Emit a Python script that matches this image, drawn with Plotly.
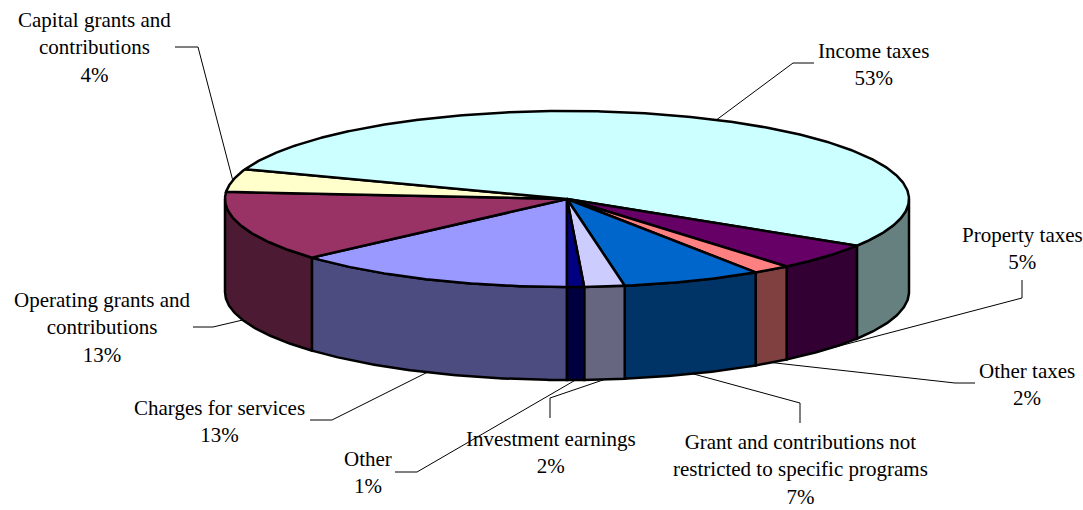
import numpy as np
import plotly.graph_objects as go

# ---- data (Excel order, first slice drawn at 6 o'clock, clockwise) ----
categories = [
    "Charges for services",
    "Operating grants and<br>contributions",
    "Capital grants and<br>contributions",
    "Income taxes",
    "Property taxes",
    "Other taxes",
    "Grant and contributions not<br>restricted to specific programs",
    "Investment earnings",
    "Other",
]
values = [13.4, 12.9, 4.2, 53.4, 5.0, 1.8, 6.6, 1.9, 0.8]
top_colors = ["#9999FF", "#993366", "#FFFFCC", "#CCFFFF", "#660066",
              "#FF8080", "#0066CC", "#CCCCFF", "#000080"]
side_colors = ["#4C4C80", "#4D1A33", "#808066", "#668080", "#330033",
               "#804040", "#003366", "#666680", "#000040"]

# ---- geometry / layout (pixel-like units) ----
CX, CY, RX, RY, DEPTH = 567, 199, 342, 88, 93
START = 180.0
W, H = 1083, 510

# label placement: (text center x, text center y, elbow point, leader end point)
label_layout = [
    dict(x=219, y=421, p1=(310, 420), p2=(332, 420)),
    dict(x=102, y=327, p1=(193, 327), p2=(213, 327)),
    dict(x=94, y=47, p1=(175, 47), p2=(198, 47)),
    dict(x=873, y=64, p1=(814, 63), p2=(793, 63)),
    dict(x=1022, y=248, p1=(1022, 280), p2=(1022, 298)),
    dict(x=1027, y=384, p1=(975, 383), p2=(955, 383)),
    dict(x=800, y=469, p1=(800, 423), p2=(800, 403)),
    dict(x=551, y=452, p1=(550, 418), p2=(550, 398)),
    dict(x=368, y=472, p1=(395, 472), p2=(417, 472)),
]


def pt(theta_deg, dy=0.0):
    t = np.radians(theta_deg)
    return CX + RX * np.sin(t), CY - RY * np.cos(t) + dy


def arc(a0, a1, dy=0.0):
    n = max(int(abs(a1 - a0) * 2) + 2, 3)
    th = np.linspace(a0, a1, n)
    x, y = pt(th, dy)
    return list(x), list(y)


total = float(sum(values))
angles = [START]
for v in values:
    angles.append(angles[-1] + 360.0 * v / total)

fig = go.Figure()

# side walls (front half only: 90..270 and 450..630)
for i in range(len(values)):
    a0, a1 = angles[i], angles[i + 1]
    for lo_f, hi_f in [(90, 270), (450, 630)]:
        lo, hi = max(a0, lo_f), min(a1, hi_f)
        if hi > lo:
            xt, yt = arc(lo, hi)
            xb, yb = arc(hi, lo, DEPTH)
            fig.add_trace(go.Scatter(
                x=xt + xb + [xt[0]], y=yt + yb + [yt[0]],
                mode="lines", fill="toself", fillcolor=side_colors[i],
                line=dict(color="black", width=2.5), hoverinfo="skip"))

# top faces
for i in range(len(values)):
    a0, a1 = angles[i], angles[i + 1]
    xa, ya = arc(a0, a1)
    fig.add_trace(go.Scatter(
        x=[CX] + xa + [CX], y=[CY] + ya + [CY],
        mode="lines", fill="toself", fillcolor=top_colors[i],
        line=dict(color="black", width=2.5), hoverinfo="skip"))

# labels and leader lines
for i, (cat, v) in enumerate(zip(categories, values)):
    lay = label_layout[i]
    mid = (angles[i] + angles[i + 1]) / 2.0
    m = mid % 360
    front = 90 < m < 270
    ax, ay = pt(mid, DEPTH if front else 0.0)
    fig.add_trace(go.Scatter(
        x=[lay["p1"][0], lay["p2"][0], ax], y=[lay["p1"][1], lay["p2"][1], ay],
        mode="lines", line=dict(color="black", width=1), hoverinfo="skip"))
    pct = int(round(100.0 * v / total))
    fig.add_annotation(
        x=lay["x"], y=lay["y"], xref="x", yref="y",
        text=f"{cat}<br>{pct}%", showarrow=False,
        xanchor="center", yanchor="middle", align="center",
        font=dict(family="Liberation Serif, Times New Roman, serif", size=21, color="black"))

fig.update_layout(
    width=W, height=H, margin=dict(l=0, r=0, t=0, b=0),
    paper_bgcolor="white", plot_bgcolor="white", showlegend=False,
    xaxis=dict(range=[0, W], visible=False, fixedrange=True),
    yaxis=dict(range=[H, 0], visible=False, fixedrange=True),
)

fig.write_html(
    "out.html",
    config={"displayModeBar": False, "staticPlot": True},
    post_script="document.body.style.margin='0';document.body.style.overflow='hidden';",
)
